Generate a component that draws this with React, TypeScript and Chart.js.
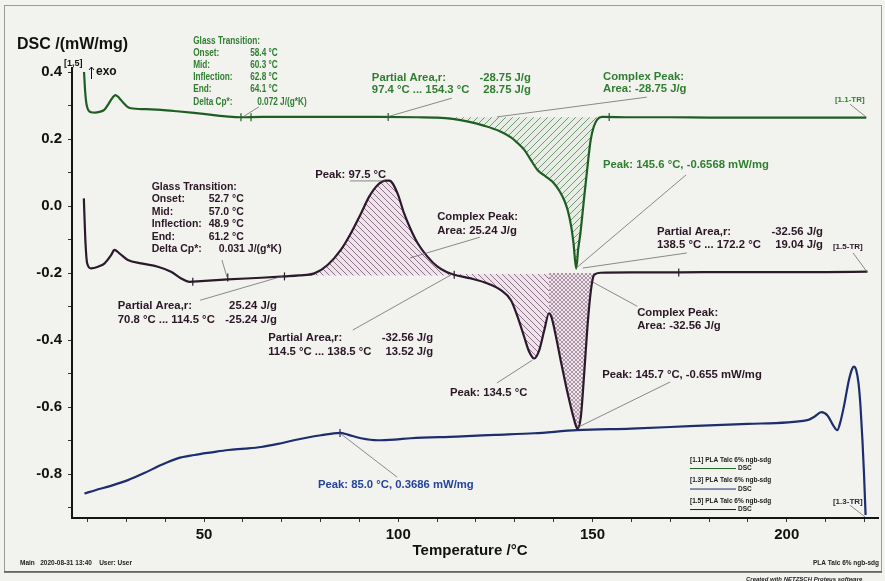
import React, { useEffect, useRef } from 'react';
import { Chart, registerables } from 'chart.js';

Chart.register(...registerables);

const FONT = '"Liberation Sans", Arial, Helvetica, sans-serif';
const BG = '#f2f2ef';

// ---- tick labels ----
const xTickLabels = [50, 100, 150, 200];
const yTickLabels = [-0.8, -0.6, -0.4, -0.2, 0.0, 0.2, 0.4];

// ---- [1.1] DSC (green) ----
const temp11 = [19.1, 19.4, 19.8, 20.9, 22.0, 23.0, 24.3, 25.3, 26.1, 27.2, 28.2, 29.2, 30.2, 31.2, 35, 38.9, 43, 47.4, 52, 56.2, 59.5, 65, 75, 85, 95, 105, 110, 114, 118, 122, 126, 129, 131, 132.5, 134, 135.9, 138, 140, 141.5, 142.8, 143.6, 144.5, 145.1, 145.8, 146.3, 146.9, 147.8, 148.7, 149.5, 150.3, 151.2, 152.5, 160, 170, 180, 190, 200, 210, 220.5];
const dsc11 = [0.400, 0.340, 0.300, 0.280, 0.279, 0.281, 0.287, 0.303, 0.318, 0.331, 0.322, 0.308, 0.297, 0.292, 0.289, 0.287, 0.283, 0.278, 0.272, 0.267, 0.265, 0.266, 0.266, 0.266, 0.266, 0.265, 0.264, 0.260, 0.252, 0.240, 0.224, 0.205, 0.185, 0.167, 0.140, 0.107, 0.088, 0.069, 0.045, 0.015, -0.012, -0.060, -0.110, -0.187, -0.130, -0.080, 0.020, 0.117, 0.195, 0.236, 0.258, 0.266, 0.265, 0.265, 0.264, 0.264, 0.264, 0.264, 0.264];

// ---- [1.5] DSC (dark purple) ----
const temp15 = [19.05, 19.4, 19.9, 20.9, 22.7, 24.4, 26.1, 26.9, 28.2, 30.4, 33.8, 38.1, 41.5, 44.1, 46.2, 49.2, 56.1, 64.7, 70.7, 74.5, 78.4, 81.8, 85.2, 87.8, 90.4, 92.5, 94.7, 96.8, 97.7, 99.8, 101.5, 103.3, 105, 107.5, 110.1, 112.3, 114.4, 118.7, 123, 126.4, 129, 130.7, 132.4, 133.7, 135, 136.3, 137.6, 138.8, 139.4, 140.6, 141.8, 143.6, 145.3, 146.1, 147, 147.8, 148.7, 149.6, 150.4, 152.1, 160, 172.2, 185, 200, 210, 220.8];
const dsc15 = [0.023, -0.092, -0.171, -0.186, -0.181, -0.171, -0.146, -0.131, -0.141, -0.161, -0.171, -0.181, -0.196, -0.216, -0.226, -0.224, -0.219, -0.214, -0.210, -0.207, -0.201, -0.176, -0.131, -0.081, -0.022, 0.028, 0.063, 0.076, 0.076, 0.038, -0.022, -0.072, -0.111, -0.151, -0.181, -0.196, -0.205, -0.216, -0.231, -0.251, -0.281, -0.330, -0.390, -0.435, -0.455, -0.430, -0.370, -0.320, -0.330, -0.390, -0.460, -0.559, -0.639, -0.664, -0.629, -0.510, -0.360, -0.251, -0.206, -0.199, -0.198, -0.198, -0.197, -0.197, -0.197, -0.196];

// ---- [1.3] DSC (navy) ----
const temp13 = [19.2, 22, 26, 30.4, 34.6, 38.9, 43.2, 47.5, 52, 56.2, 60.5, 64.7, 69, 73.1, 77, 80.1, 83, 85.0, 87, 90.4, 94.7, 99, 103.2, 115, 125, 135, 146, 160, 175, 190, 205.3, 207.2, 208.9, 210.5, 212, 213, 213.8, 214.7, 216, 216.8, 217.3, 217.9, 218.5, 219, 219.5, 219.9, 220.3];
const dsc13 = [-0.858, -0.848, -0.835, -0.818, -0.797, -0.773, -0.753, -0.743, -0.735, -0.728, -0.724, -0.719, -0.710, -0.699, -0.690, -0.684, -0.679, -0.677, -0.682, -0.693, -0.699, -0.697, -0.693, -0.688, -0.683, -0.678, -0.669, -0.664, -0.657, -0.650, -0.639, -0.628, -0.615, -0.625, -0.655, -0.669, -0.645, -0.599, -0.520, -0.487, -0.479, -0.490, -0.530, -0.599, -0.700, -0.800, -0.922];

// ---- evaluation markers on the curves ----
const mark11T = [59.5, 62.1, 97.4, 154.3];
const mark11V = [0.265, 0.265, 0.266, 0.266];
const mark15T = [47.1, 56.1, 70.7, 114.4, 172.2];
const mark15V = [-0.226, -0.213, -0.210, -0.205, -0.198];
const mark13T = [85.0];
const mark13V = [-0.677];

// ---- integration regions: [from, to, baseline] ----
const area11 = [108, 152.5, 0.265];
const area15a = [70.7, 114.4, -0.207];
const area15b = [114.4, 138.8, -0.203];
const area15c = [138.8, 152.1, -0.200];

const legendNames = ['[1.1] PLA Talc 6% ngb-sdg', '[1.3] PLA Talc 6% ngb-sdg', '[1.5] PLA Talc 6% ngb-sdg'];

const C11 = '#1f5e22';
const C15 = '#2a1a2c';
const C13 = '#1d2d6e';
const TG = '#2f7f30';
const TP = '#2a1626';
const TB = '#23449a';

type Piece = [string, number, CanvasTextAlign?];
type Note = { at: [number, number]; color: string; rows: Piece[][]; lh?: number; size?: number; sx?: number; lead?: [number, number, number, number] };

const notes: Note[] = [
  { at: [47.2, 0.492], color: TG, lh: 12.1, size: 10.3, sx: 0.8, rows: [[['Glass Transition:', 0]], [['Onset:', 0], ['58.4 °C', 57]], [['Mid:', 0], ['60.3 °C', 57]], [['Inflection:', 0], ['62.8 °C', 57]], [['End:', 0], ['64.1 °C', 57]], [['Delta Cp*:', 0], ['0.072 J/(g*K)', 64]]], lead: [64.1, 0.296, 60.0, 0.266] },
  { at: [93.2, 0.382], color: TG, lh: 12, rows: [[['Partial Area,r:', 0], ['-28.75 J/g', 159, 'right']], [['97.4 °C ... 154.3 °C', 0], ['28.75 J/g', 159, 'right']]], lead: [113.8, 0.322, 97.1, 0.266] },
  { at: [152.7, 0.385], color: TG, lh: 12, rows: [[['Complex Peak:', 0]], [['Area: -28.75 J/g', 0]]], lead: [164, 0.325, 125.4, 0.266] },
  { at: [212.4, 0.316], color: TG, size: 8, rows: [[['[1.1-TR]', 0]]], lead: [216.3, 0.304, 220.4, 0.266] },
  { at: [152.7, 0.122], color: TG, rows: [[['Peak: 145.6 °C, -0.6568 mW/mg', 0]]], lead: [174.1, 0.093, 145.8, -0.185] },
  { at: [36.5, 0.058], color: TP, lh: 12.5, size: 10.5, rows: [[['Glass Transition:', 0]], [['Onset:', 0], ['52.7 °C', 57]], [['Mid:', 0], ['57.0 °C', 57]], [['Inflection:', 0], ['48.9 °C', 57]], [['End:', 0], ['61.2 °C', 57]], [['Delta Cp*:', 0], ['0.031 J/(g*K)', 67]]], lead: [54.6, -0.161, 55.9, -0.212] },
  { at: [78.6, 0.093], color: TP, rows: [[['Peak: 97.5 °C', 0]]], lead: [87.6, 0.075, 96.6, 0.075] },
  { at: [110.0, -0.033], color: TP, lh: 14, rows: [[['Complex Peak:', 0]], [['Area: 25.24 J/g', 0]]], lead: [121.0, -0.093, 103.0, -0.155] },
  { at: [27.8, -0.299], color: TP, lh: 14, rows: [[['Partial Area,r:', 0], ['25.24 J/g', 159, 'right']], [['70.8 °C ... 114.5 °C', 0], ['-25.24 J/g', 159, 'right']]], lead: [49.0, -0.281, 70.3, -0.209] },
  { at: [66.5, -0.394], color: TP, lh: 13.5, rows: [[['Partial Area,r:', 0], ['-32.56 J/g', 165, 'right']], [['114.5 °C ... 138.5 °C', 0], ['13.52 J/g', 165, 'right']]], lead: [88.3, -0.37, 113.8, -0.204] },
  { at: [166.6, -0.078], color: TP, lh: 13, rows: [[['Partial Area,r:', 0], ['-32.56 J/g', 166, 'right']], [['138.5 °C ... 172.2 °C', 0], ['19.04 J/g', 166, 'right']]], lead: [174.3, -0.14, 147.5, -0.185] },
  { at: [211.9, -0.122], color: TP, size: 8, rows: [[['[1.5-TR]', 0]]], lead: [217.1, -0.14, 220.7, -0.197] },
  { at: [161.5, -0.319], color: TP, lh: 13, rows: [[['Complex Peak:', 0]], [['Area: -32.56 J/g', 0]]], lead: [161.5, -0.299, 150.1, -0.227] },
  { at: [113.3, -0.558], color: TP, rows: [[['Peak: 134.5 °C', 0]]], lead: [125.4, -0.528, 134.5, -0.46] },
  { at: [152.5, -0.504], color: TP, rows: [[['Peak: 145.7 °C, -0.655 mW/mg', 0]]], lead: [170.0, -0.525, 146.3, -0.66] },
  { at: [79.3, -0.833], color: TB, rows: [[['Peak: 85.0 °C, 0.3686 mW/mg', 0]]], lead: [99.7, -0.809, 85.0, -0.678] },
  { at: [211.9, -0.884], color: '#2a2a3a', size: 8, rows: [[['[1.3-TR]', 0]]], lead: [216.3, -0.893, 220.2, -0.928] },
];
const legendAt: [number, number] = [175.1, -0.758];

function pts(t: number[], v: number[]) {
  return t.map((x, i) => ({ x, y: v[i] }));
}
function sub(t: number[], v: number[], r: number[]) {
  return pts(t, v).filter((p) => p.x >= r[0] - 1e-9 && p.x <= r[1] + 1e-9);
}

function makePattern(ctx: CanvasRenderingContext2D, kind: string, line: string, bg: string, size: number) {
  const c = document.createElement('canvas');
  c.width = size;
  c.height = size;
  const g = c.getContext('2d')!;
  g.fillStyle = bg;
  g.fillRect(0, 0, size, size);
  g.strokeStyle = line;
  g.lineWidth = 0.9;
  const seg = (a: number, b: number, cc: number, d: number) => {
    g.beginPath();
    g.moveTo(a, b);
    g.lineTo(cc, d);
    g.stroke();
  };
  if (kind === 'up' || kind === 'cross') {
    seg(-1, size + 1, size + 1, -1);
    seg(-1, 1, 1, -1);
    seg(size - 1, size + 1, size + 1, size - 1);
  }
  if (kind === 'down' || kind === 'cross') {
    seg(-1, -1, size + 1, size + 1);
    seg(size - 1, -1, size + 1, 1);
    seg(-1, size - 1, 1, size + 1);
  }
  return ctx.createPattern(c, 'repeat')!;
}

const decorPlugin = {
  id: 'decor',
  beforeDraw(chart: any) {
    const ctx = chart.ctx;
    ctx.save();
    ctx.fillStyle = BG;
    ctx.fillRect(0, 0, chart.width, chart.height);
    ctx.restore();
  },
  afterDraw(chart: any) {
    const ctx: CanvasRenderingContext2D = chart.ctx;
    const a = chart.chartArea;
    const xs = chart.scales.x;
    const ys = chart.scales.y;
    ctx.save();
    // frame
    ctx.strokeStyle = '#9a9a9a';
    ctx.lineWidth = 1;
    ctx.strokeRect(4.5, 5.5, 877, 566);
    ctx.strokeStyle = '#555';
    ctx.lineWidth = 1.5;
    ctx.beginPath();
    ctx.moveTo(4, 572);
    ctx.lineTo(882, 572);
    ctx.stroke();

    // axis titles
    ctx.fillStyle = '#111';
    ctx.textBaseline = 'middle';
    ctx.textAlign = 'left';
    ctx.font = `bold 16px ${FONT}`;
    ctx.fillText('DSC /(mW/mg)', 17, 45);
    ctx.font = `bold 9px ${FONT}`;
    ctx.fillText('[1,5]', a.left - 8, a.top - 4);
    ctx.font = `bold 12px ${FONT}`;
    ctx.fillText('exo', a.left + 24, a.top + 4);
    ctx.strokeStyle = '#111';
    ctx.lineWidth = 1;
    ctx.beginPath();
    ctx.moveTo(a.left + 19.5, a.top + 11);
    ctx.lineTo(a.left + 19.5, a.top - 1);
    ctx.moveTo(a.left + 17, a.top + 2);
    ctx.lineTo(a.left + 19.5, a.top - 1);
    ctx.lineTo(a.left + 22, a.top + 2);
    ctx.stroke();
    ctx.font = `bold 15px ${FONT}`;
    ctx.textAlign = 'center';
    ctx.fillText('Temperature /°C', 470, a.bottom + 33);

    // annotation leader lines
    for (const n of notes) {
      if (n.lead) {
        ctx.strokeStyle = 'rgba(95,95,95,0.8)';
        ctx.lineWidth = 0.9;
        ctx.beginPath();
        ctx.moveTo(xs.getPixelForValue(n.lead[0]), ys.getPixelForValue(n.lead[1]));
        ctx.lineTo(xs.getPixelForValue(n.lead[2]), ys.getPixelForValue(n.lead[3]));
        ctx.stroke();
      }
    }
    // annotation texts
    for (const n of notes) {
      const px = xs.getPixelForValue(n.at[0]);
      const py = ys.getPixelForValue(n.at[1]);
      ctx.font = `bold ${n.size ?? 11.3}px ${FONT}`;
      ctx.fillStyle = n.color;
      ctx.textBaseline = 'middle';
      n.rows.forEach((row, i) => {
        row.forEach(([txt, dx, al]) => {
          ctx.save();
          ctx.translate(px + dx, py + i * (n.lh ?? 12.5));
          ctx.scale(n.sx ?? 1, 1);
          ctx.textAlign = al ?? 'left';
          ctx.fillText(txt, 0, 0);
          ctx.restore();
        });
      });
    }

    // legend
    const lx = xs.getPixelForValue(legendAt[0]);
    const ly = ys.getPixelForValue(legendAt[1]);
    const lcol = [C11, C13, C15];
    ctx.font = `bold 6.5px ${FONT}`;
    ctx.textAlign = 'left';
    legendNames.forEach((nm, i) => {
      const yy = ly + i * 20.5;
      ctx.fillStyle = '#1a1a1a';
      ctx.fillText(nm, lx, yy);
      ctx.strokeStyle = lcol[i];
      ctx.lineWidth = 1;
      ctx.beginPath();
      ctx.moveTo(lx, yy + 8.5);
      ctx.lineTo(lx + 46, yy + 8.5);
      ctx.stroke();
      ctx.fillText('DSC', lx + 48, yy + 8.5);
    });

    // footer
    ctx.fillStyle = '#222';
    ctx.font = `bold 6.5px ${FONT}`;
    ctx.textAlign = 'left';
    ctx.fillText('Main   2020-08-31 13:40    User: User', 20, 563);
    ctx.textAlign = 'right';
    ctx.fillText('PLA Talc 6% ngb-sdg', 879, 563);
    ctx.font = `italic bold 6px ${FONT}`;
    ctx.textAlign = 'left';
    ctx.fillText('Created with NETZSCH Proteus software', 746, 579);
    ctx.restore();
  },
};

export default function App() {
  const ref = useRef<HTMLCanvasElement>(null);
  useEffect(() => {
    const canvas = ref.current!;
    const ctx = canvas.getContext('2d')!;
    const patG = makePattern(ctx, 'up', 'rgba(60,110,60,0.75)', 'rgba(205,222,205,0.3)', 7);
    const patP = makePattern(ctx, 'down', 'rgba(100,55,90,0.75)', 'rgba(232,212,228,0.45)', 6);
    const patX = makePattern(ctx, 'cross', 'rgba(100,55,90,0.5)', 'rgba(232,212,228,0.45)', 4);

    const fillSet = (data: any[], base: number, pat: CanvasPattern) => ({
      data,
      fill: { value: base },
      backgroundColor: pat,
      borderColor: 'rgba(0,0,0,0)',
      borderWidth: 0,
      pointRadius: 0,
      cubicInterpolationMode: 'monotone' as const,
      order: 3,
    });
    const lineSet = (data: any[], color: string) => ({
      data,
      borderColor: color,
      borderWidth: 2.2,
      pointRadius: 0,
      fill: false,
      cubicInterpolationMode: 'monotone' as const,
      order: 1,
    });
    const markSet = (data: any[], color: string) => ({
      data,
      showLine: false,
      pointStyle: 'line' as const,
      rotation: 90,
      pointRadius: 4,
      pointBorderWidth: 1.2,
      pointBorderColor: color,
      borderColor: color,
      order: 0,
    });

    const chart = new Chart(canvas, {
      type: 'line',
      data: {
        datasets: [
          fillSet(sub(temp11, dsc11, area11), area11[2], patG),
          fillSet(sub(temp15, dsc15, area15a), area15a[2], patP),
          fillSet(sub(temp15, dsc15, area15b), area15b[2], patP),
          fillSet(sub(temp15, dsc15, area15c), area15c[2], patX),
          lineSet(pts(temp11, dsc11), C11),
          lineSet(pts(temp15, dsc15), C15),
          lineSet(pts(temp13, dsc13), C13),
          markSet(pts(mark11T, mark11V), C11),
          markSet(pts(mark15T, mark15V), C15),
          markSet(pts(mark13T, mark13V), C13),
        ] as any,
      },
      options: {
        animation: false,
        responsive: false,
        devicePixelRatio: 1,
        events: [],
        layout: { padding: { top: 68, right: 7, bottom: 33, left: 0 } },
        plugins: { legend: { display: false }, tooltip: { enabled: false } },
        scales: {
          x: {
            type: 'linear',
            min: 16,
            max: 223.5,
            afterFit: (s: any) => {
              s.height = 30;
            },
            border: { display: true, color: '#151515', width: 2 },
            grid: { drawOnChartArea: false, drawTicks: true, tickLength: 4, color: '#333' },
            ticks: {
              stepSize: 10,
              includeBounds: false,
              maxRotation: 0,
              autoSkip: false,
              padding: 4,
              color: '#111',
              font: { family: FONT, size: 15, weight: 'bold' },
              callback: (v: any) => {
                const m = xTickLabels.find((l) => Math.abs(l - Number(v)) < 1e-6);
                return m === undefined ? '' : String(m);
              },
            },
          },
          y: {
            type: 'linear',
            min: -0.931,
            max: 0.412,
            afterFit: (s: any) => {
              s.width = 72;
            },
            border: { display: true, color: '#151515', width: 2 },
            grid: { drawOnChartArea: false, drawTicks: true, tickLength: 4, color: '#333' },
            ticks: {
              stepSize: 0.1,
              includeBounds: false,
              autoSkip: false,
              padding: 6,
              color: '#111',
              font: { family: FONT, size: 15, weight: 'bold' },
              callback: (v: any) => {
                const m = yTickLabels.find((l) => Math.abs(l - Number(v)) < 1e-6);
                return m === undefined ? '' : m.toFixed(1);
              },
            },
          },
        },
      },
      plugins: [decorPlugin],
    });
    return () => chart.destroy();
  }, []);
  return (
    <div style={{ position: 'fixed', left: 0, top: 0, width: 885, height: 581, background: BG }}>
      <canvas ref={ref} width={885} height={581} style={{ display: 'block' }} />
    </div>
  );
}
